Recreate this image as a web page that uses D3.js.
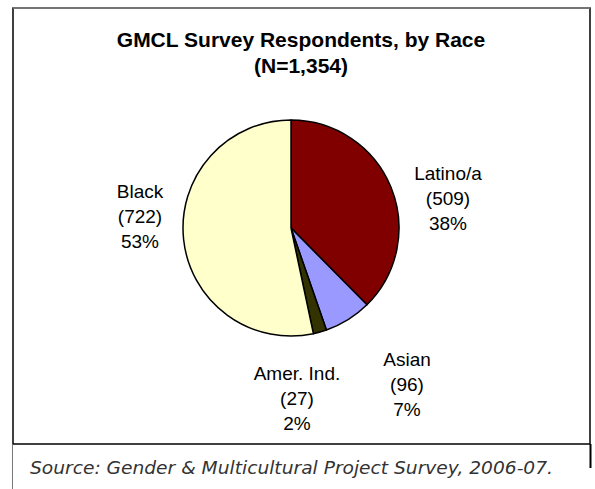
<!DOCTYPE html>
<html>
<head>
<meta charset="utf-8">
<script src="https://cdn.jsdelivr.net/npm/d3@7"></script>
<style>
  body { margin: 0; background: #fff; }
  svg { display: block; }
</style>
</head>
<body>
<div id="chart"></div>
<script>
const categories = ["Latino/a", "Asian", "Amer. Ind.", "Black"];
const counts = [509, 96, 27, 722];
const percents = ["38%", "7%", "2%", "53%"];
const colors = ["#800000", "#9999ff", "#333300", "#ffffcc"];
// label anchor points (pixels) for each slice
const labelX = [448, 407, 297, 140];
const labelY = [180, 366, 380, 198];

const width = 595, height = 489;
const cx = 291, cy = 228, radius = 108;

const svg = d3.select("#chart")
    .append("svg")
    .attr("width", width)
    .attr("height", height);

// chart frame
svg.append("rect")
    .attr("x", 13).attr("y", 8)
    .attr("width", 577).attr("height", 436)
    .attr("fill", "#fff")
    .attr("stroke", "#000")
    .attr("stroke-width", 1.5);
svg.append("line")
    .attr("x1", 13).attr("x2", 590).attr("y1", 8).attr("y2", 8)
    .attr("stroke", "#888").attr("stroke-width", 1.5);

// source box edges
svg.append("line")
    .attr("x1", 12.5).attr("x2", 12.5).attr("y1", 444).attr("y2", 489)
    .attr("stroke", "#777").attr("stroke-width", 1);
svg.append("line")
    .attr("x1", 590.5).attr("x2", 590.5).attr("y1", 444).attr("y2", 468)
    .attr("stroke", "#000").attr("stroke-width", 2);

svg.append("text")
    .attr("x", 301).attr("y", 47)
    .attr("text-anchor", "middle")
    .style("font-family", "'Liberation Sans', Arial, sans-serif")
    .style("font-weight", "bold")
    .style("font-size", "21px")
    .text("GMCL Survey Respondents, by Race");
svg.append("text")
    .attr("x", 301).attr("y", 73)
    .attr("text-anchor", "middle")
    .style("font-family", "'Liberation Sans', Arial, sans-serif")
    .style("font-weight", "bold")
    .style("font-size", "21px")
    .text("(N=1,354)");

const data = categories.map((c, i) => ({name: c, value: counts[i], pct: percents[i], color: colors[i], lx: labelX[i], ly: labelY[i]}));

const pie = d3.pie().value(d => d.value).sort(null);
const arc = d3.arc().innerRadius(0).outerRadius(radius);

const g = svg.append("g").attr("transform", `translate(${cx}, ${cy})`);

g.selectAll("path")
    .data(pie(data))
    .enter()
    .append("path")
    .attr("d", arc)
    .attr("fill", d => d.data.color)
    .attr("stroke", "#000")
    .attr("stroke-width", 1.5)
    .attr("stroke-linejoin", "round");

const labels = svg.selectAll("g.label")
    .data(data)
    .enter()
    .append("g")
    .attr("class", "label");

labels.each(function(d) {
    const lines = [d.name, `(${d.value})`, d.pct];
    d3.select(this).selectAll("text")
        .data(lines)
        .enter()
        .append("text")
        .attr("x", d.lx)
        .attr("y", (t, i) => d.ly + i * 25)
        .attr("text-anchor", "middle")
        .style("font-family", "'Liberation Sans', Arial, sans-serif")
        .style("font-size", "19px")
        .text(t => t);
});

svg.append("text")
    .attr("x", 30).attr("y", 474)
    .attr("textLength", 523)
    .attr("lengthAdjust", "spacingAndGlyphs")
    .style("font-family", "'DejaVu Sans ExtraLight', 'DejaVu Sans', sans-serif")
    .style("font-style", "italic")
    .style("font-weight", "200")
    .style("font-size", "18px")
    .style("fill", "#333")
    .text("Source: Gender & Multicultural Project Survey, 2006-07.");
</script>
</body>
</html>
